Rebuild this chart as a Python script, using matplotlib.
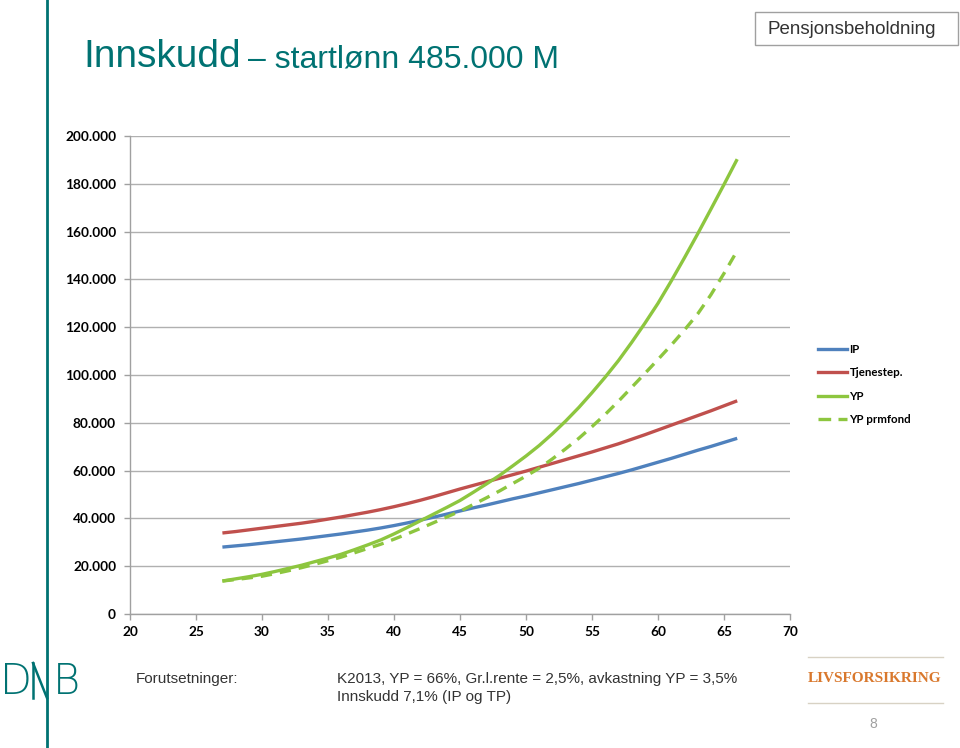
import matplotlib
matplotlib.use("Agg")
import matplotlib.pyplot as plt
from matplotlib.ticker import FuncFormatter, MultipleLocator
from matplotlib.lines import Line2D
from matplotlib.patches import Rectangle

# ---- data (values in thousands NOK) ----
ages = list(range(27, 67))
ip_k = [28.0, 28.5, 29.0, 29.6, 30.2, 30.8, 31.4, 32.1, 32.8, 33.5,
        34.3, 35.1, 36.0, 37.0, 38.1, 39.3, 40.5, 41.8, 43.1, 44.4,
        45.6, 46.9, 48.2, 49.4, 50.7, 52.0, 53.3, 54.6, 56.0, 57.4,
        58.8, 60.3, 61.9, 63.5, 65.1, 66.8, 68.5, 70.1, 71.8, 73.5]
tjenestep_k = [33.9, 34.5, 35.2, 35.9, 36.6, 37.3, 38.0, 38.8, 39.7, 40.6,
               41.6, 42.6, 43.7, 44.9, 46.2, 47.6, 49.1, 50.7, 52.3, 53.8,
               55.3, 56.8, 58.3, 59.8, 61.4, 63.0, 64.6, 66.2, 67.8, 69.5,
               71.2, 73.1, 75.0, 77.0, 79.0, 81.0, 83.0, 85.0, 87.1, 89.2]
yp_k = [13.8, 14.7, 15.6, 16.6, 17.8, 19.1, 20.4, 21.9, 23.4, 25.0,
        26.9, 28.9, 31.0, 33.5, 36.2, 39.0, 41.8, 44.6, 47.5, 50.9,
        54.4, 58.0, 62.0, 66.1, 70.5, 75.4, 80.7, 86.4, 92.6, 99.1,
        106.0, 113.6, 121.6, 130.0, 139.3, 149.0, 159.0, 169.3, 179.7, 190.3]
yp_prmfond_k = [13.8, 14.4, 15.1, 15.8, 16.9, 18.1, 19.4, 20.8, 22.3, 23.8,
                25.6, 27.4, 29.2, 31.3, 33.5, 35.8, 38.2, 40.6, 43.0, 45.8,
                48.6, 51.5, 54.6, 57.7, 61.0, 64.9, 69.1, 73.5, 78.4, 83.5,
                89.0, 94.8, 100.6, 106.5, 112.5, 118.8, 125.5, 133.5, 142.5, 152.0]
series_names = ["IP", "Tjenestep.", "YP", "YP prmfond"]

title_big = "Innskudd"
title_small = "– startlønn 485.000 M"
box_label = "Pensjonsbeholdning"
footer_label = "Forutsetninger:"
footer_line1 = "K2013, YP = 66%, Gr.l.rente = 2,5%, avkastning YP = 3,5%"
footer_line2 = "Innskudd 7,1% (IP og TP)"

BLUE = "#4F81BD"
RED = "#C0504D"
GREEN = "#8DC63F"
TEAL = "#007272"
SANS = "Liberation Sans"

W, H = 960, 748
fig = plt.figure(figsize=(W / 100, H / 100), dpi=100)
fig.patch.set_facecolor("white")

ax = fig.add_axes([130 / W, 1 - 614 / H, 660 / W, 478 / H])
lw = 2.4
DASH = (3.4, 2.4)
ax.plot(ages, [v * 1000 for v in ip_k], color=BLUE, lw=lw, solid_capstyle="butt")
ax.plot(ages, [v * 1000 for v in tjenestep_k], color=RED, lw=lw, solid_capstyle="butt")
ax.plot(ages, [v * 1000 for v in yp_k], color=GREEN, lw=lw, solid_capstyle="butt")
ax.plot(ages, [v * 1000 for v in yp_prmfond_k], color=GREEN, lw=lw, dashes=DASH, dash_capstyle="butt")

ax.set_xlim(20, 70)
ax.set_ylim(0, 200000)
ax.xaxis.set_major_locator(MultipleLocator(5))
ax.yaxis.set_major_locator(MultipleLocator(20000))
ax.yaxis.set_major_formatter(FuncFormatter(lambda v, p: "0" if v == 0 else f"{int(v):,}".replace(",", ".")))
ax.grid(axis="y", color="#B0B0B0", lw=1.0)
ax.set_axisbelow(True)
for s in ["top", "right"]:
    ax.spines[s].set_visible(False)
for s in ["left", "bottom"]:
    ax.spines[s].set_color("#A0A0A0")
    ax.spines[s].set_linewidth(1.0)
ax.tick_params(axis="both", colors="#A0A0A0", length=4, width=1.0, labelcolor="black")
for lab in ax.get_xticklabels() + ax.get_yticklabels():
    lab.set_fontfamily("Lato")
    lab.set_fontweight("bold")
    lab.set_fontsize(9.8)
ax.tick_params(axis="y", pad=6)
ax.tick_params(axis="x", pad=5)

handles = [Line2D([], [], color=BLUE, lw=lw),
           Line2D([], [], color=RED, lw=lw),
           Line2D([], [], color=GREEN, lw=lw),
           Line2D([], [], color=GREEN, lw=lw, dashes=(3.8, 2.2))]
leg = fig.legend(handles, series_names, loc="upper left", bbox_to_anchor=(808 / W, 1 - 334 / H),
                 frameon=False, handlelength=2.5, handletextpad=0.2, labelspacing=1.05,
                 prop={"family": "Lato", "weight": "bold", "size": 8.3})

# title
fig.text(83 / W, 1 - 57 / H, title_big, color=TEAL, fontsize=28, family=SANS, va="center", ha="left")
fig.text(248 / W, 1 - 59 / H, title_small, color=TEAL, fontsize=23, family=SANS, va="center", ha="left")

# vertical brand line
fig.add_artist(Line2D([47 / W, 47 / W], [0, 1], color=TEAL, lw=2.0))

# box top right
fig.add_artist(Rectangle((755 / W, 1 - 45 / H), 203 / W, 33 / H, fill=False, edgecolor="#A0A0A0", lw=1.0))
fig.text(852 / W, 1 - 29 / H, box_label, fontsize=13.5, family=SANS, color="#333333", ha="center", va="center")

# footer
fig.text(136 / W, 1 - 679 / H, footer_label, fontsize=11, family=SANS, color="#333333", va="center")
fig.text(337 / W, 1 - 679 / H, footer_line1, fontsize=11, family=SANS, color="#333333", va="center")
fig.text(337 / W, 1 - 697 / H, footer_line2, fontsize=11, family=SANS, color="#333333", va="center")

# DNB logo
fig.text(0 / W, 1 - 681 / H, "D", fontsize=30, family="DejaVu Sans", fontweight="light", color=TEAL, va="center", ha="left")
fig.text(53 / W, 1 - 681 / H, "B", fontsize=30, family="DejaVu Sans", fontweight="light", color=TEAL, va="center", ha="left")
fig.add_artist(Line2D([33 / W, 47 / W], [1 - 663 / H, 1 - 698 / H], color=TEAL, lw=1.8))
fig.add_artist(Line2D([33 / W, 33 / W], [1 - 663 / H, 1 - 698 / H], color=TEAL, lw=1.8))

# LIVSFORSIKRING
fig.add_artist(Line2D([808 / W, 943 / W], [1 - 657 / H, 1 - 657 / H], color="#D8D2C4", lw=1.0))
fig.add_artist(Line2D([808 / W, 943 / W], [1 - 703 / H, 1 - 703 / H], color="#D8D2C4", lw=1.0))
fig.text(875 / W, 1 - 679 / H, "LIVSFORSIKRING", fontsize=11, family="Liberation Serif", fontweight="bold",
         color="#D9782D", ha="center", va="center")
fig.text(873 / W, 1 - 724 / H, "8", fontsize=10, family=SANS, color="#A0A0A0", ha="center", va="center")

fig.savefig("out.png", dpi=100)
